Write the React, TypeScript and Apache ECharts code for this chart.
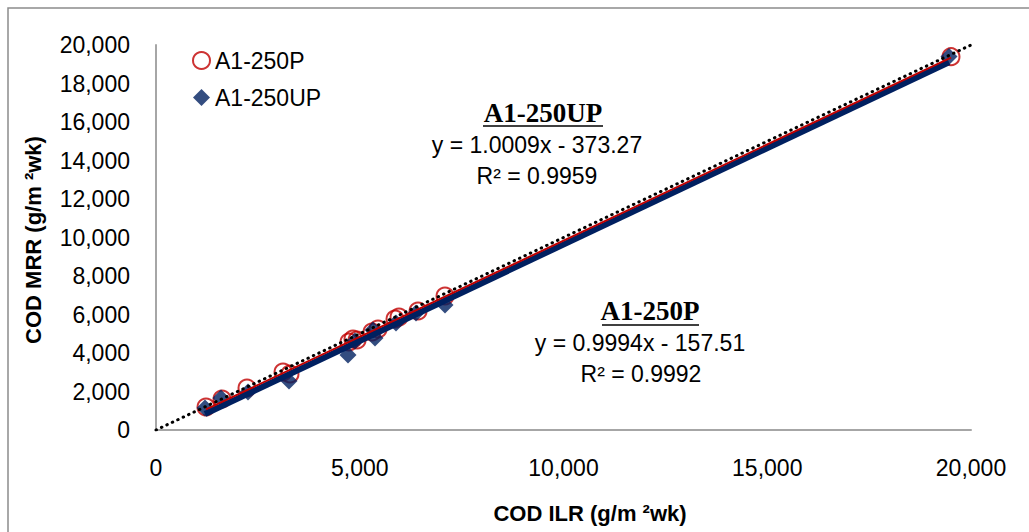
import React, { useEffect, useRef } from "react";
import * as echarts from "echarts";

const pX = [1227, 1620, 2233, 3117, 3288, 4736, 4834, 4933, 5301, 5448, 5865, 5963, 6430, 7092, 19509];
const pY = [1195, 1610, 2182, 3013, 2909, 4572, 4727, 4676, 5091, 5247, 5766, 5870, 6182, 6961, 19393];
const upX = [1203, 1595, 2258, 3264, 4712, 4884, 5374, 5325, 5890, 6380, 7092, 19460];
const upY = [1143, 1662, 1974, 2546, 3896, 4624, 4779, 5195, 5558, 6078, 6494, 19400];

const pFit = [0.9994, -157.51];
const upFit = [1.0009, -373.27];

const seriesNames = ["A1-250P", "A1-250UP"];
const xTicks = [0, 20000, 5000];
const yTicks = [0, 20000, 2000];

const FONT = "Liberation Sans";

function fitLine(xs: number[], fit: number[]) {
  const lo = Math.min(...xs);
  const hi = Math.max(...xs);
  return [
    [lo, fit[0] * lo + fit[1]],
    [hi, fit[0] * hi + fit[1]],
  ];
}

export default function App() {
  const ref = useRef<HTMLDivElement>(null);
  useEffect(() => {
    if (!ref.current) return;
    const chart = echarts.init(ref.current, null, { renderer: "svg" });
    const fmt = (v: number) => v.toLocaleString("en-US");
    chart.setOption({
      animation: false,
      backgroundColor: "#fff",
      grid: { left: 156, top: 45, width: 815, height: 385 },
      legend: {
        orient: "vertical",
        left: 187,
        top: 44,
        itemGap: 14,
        itemWidth: 17,
        itemHeight: 17,
        textStyle: { fontFamily: FONT, fontSize: 23, color: "#000" },
        data: [
          { name: seriesNames[0], icon: "circle" },
          { name: seriesNames[1], icon: "diamond" },
        ],
      },
      xAxis: {
        type: "value",
        min: xTicks[0],
        max: xTicks[1],
        interval: xTicks[2],
        splitLine: { show: false },
        axisTick: { show: false },
        axisLine: { lineStyle: { color: "#A6A6A6", width: 2 } },
        axisLabel: {
          formatter: fmt,
          fontFamily: FONT,
          fontSize: 23,
          color: "#000",
          margin: 26,
        },
      },
      yAxis: {
        type: "value",
        min: yTicks[0],
        max: yTicks[1],
        interval: yTicks[2],
        splitLine: { show: false },
        axisTick: { show: false },
        axisLine: { show: true, lineStyle: { color: "#A6A6A6", width: 2 } },
        axisLabel: {
          formatter: fmt,
          fontFamily: FONT,
          fontSize: 23,
          color: "#000",
          margin: 26,
        },
      },
      series: [
        {
          name: seriesNames[0],
          type: "scatter",
          symbol: "circle",
          symbolSize: 17,
          itemStyle: { color: "rgba(255,255,255,0)", borderColor: "#C00000", borderWidth: 2 },
          data: pX.map((x, i) => [x, pY[i]]),
          z: 2,
        },
        {
          name: seriesNames[1],
          type: "scatter",
          symbol: "diamond",
          symbolSize: 17,
          itemStyle: { color: "#002060" },
          data: upX.map((x, i) => [x, upY[i]]),
          z: 3,
        },
        {
          name: "fitUP",
          type: "line",
          data: fitLine(upX, upFit),
          showSymbol: false,
          symbol: "none",
          lineStyle: { color: "#002060", width: 6 },
          z: 4,
        },
        {
          name: "fitP",
          type: "line",
          data: fitLine(pX, pFit),
          showSymbol: false,
          symbol: "none",
          lineStyle: { color: "#C00000", width: 2 },
          z: 5,
        },
        {
          name: "oneToOne",
          type: "line",
          data: [
            [xTicks[0], yTicks[0]],
            [xTicks[1], yTicks[1]],
          ],
          showSymbol: false,
          symbol: "none",
          lineStyle: { color: "#000", width: 3, type: [0.5, 5.5], cap: "round" },
          z: 6,
        },
      ],
      graphic: [
        {
          type: "rect",
          shape: { x: 8, y: 8, width: 1100, height: 600 },
          style: { fill: "none", stroke: "#8C8C8C", lineWidth: 1.5 },
          silent: true,
          z: -1,
        },
        {
          type: "text",
          x: 590,
          y: 513,
          style: {
            text: "COD ILR (g/m ²wk)",
            fontFamily: FONT,
            fontWeight: "bold",
            fontSize: 22,
            fill: "#000",
            align: "center",
            verticalAlign: "middle",
          },
        },
        {
          type: "text",
          x: 33,
          y: 240,
          rotation: Math.PI / 2,
          style: {
            text: "COD MRR (g/m ²wk)",
            fontFamily: FONT,
            fontWeight: "bold",
            fontSize: 22,
            fill: "#000",
            align: "center",
            verticalAlign: "middle",
          },
        },
        {
          type: "text",
          x: 543,
          y: 113,
          style: {
            text: "A1-250UP",
            fontFamily: "Liberation Serif",
            fontWeight: "bold",
            fontSize: 27,
            fill: "#000",
            align: "center",
            verticalAlign: "middle",
          },
        },
        {
          type: "line",
          shape: { x1: 483, y1: 126, x2: 603, y2: 126 },
          style: { stroke: "#000", lineWidth: 1.5 },
        },
        {
          type: "text",
          x: 537,
          y: 145,
          style: {
            text: "y = 1.0009x - 373.27",
            fontFamily: FONT,
            fontSize: 23,
            fill: "#000",
            align: "center",
            verticalAlign: "middle",
          },
        },
        {
          type: "text",
          x: 537,
          y: 176,
          style: {
            text: "R² = 0.9959",
            fontFamily: FONT,
            fontSize: 23,
            fill: "#000",
            align: "center",
            verticalAlign: "middle",
          },
        },
        {
          type: "text",
          x: 650,
          y: 311,
          style: {
            text: "A1-250P",
            fontFamily: "Liberation Serif",
            fontWeight: "bold",
            fontSize: 27,
            fill: "#000",
            align: "center",
            verticalAlign: "middle",
          },
        },
        {
          type: "line",
          shape: { x1: 602, y1: 325, x2: 699, y2: 325 },
          style: { stroke: "#000", lineWidth: 1.5 },
        },
        {
          type: "text",
          x: 640,
          y: 343,
          style: {
            text: "y = 0.9994x - 157.51",
            fontFamily: FONT,
            fontSize: 23,
            fill: "#000",
            align: "center",
            verticalAlign: "middle",
          },
        },
        {
          type: "text",
          x: 641,
          y: 374,
          style: {
            text: "R² = 0.9992",
            fontFamily: FONT,
            fontSize: 23,
            fill: "#000",
            align: "center",
            verticalAlign: "middle",
          },
        },
      ],
    });
    return () => chart.dispose();
  }, []);
  return (
    <div
      ref={ref}
      style={{ position: "fixed", left: 0, top: 0, width: 1029, height: 532 }}
    />
  );
}
